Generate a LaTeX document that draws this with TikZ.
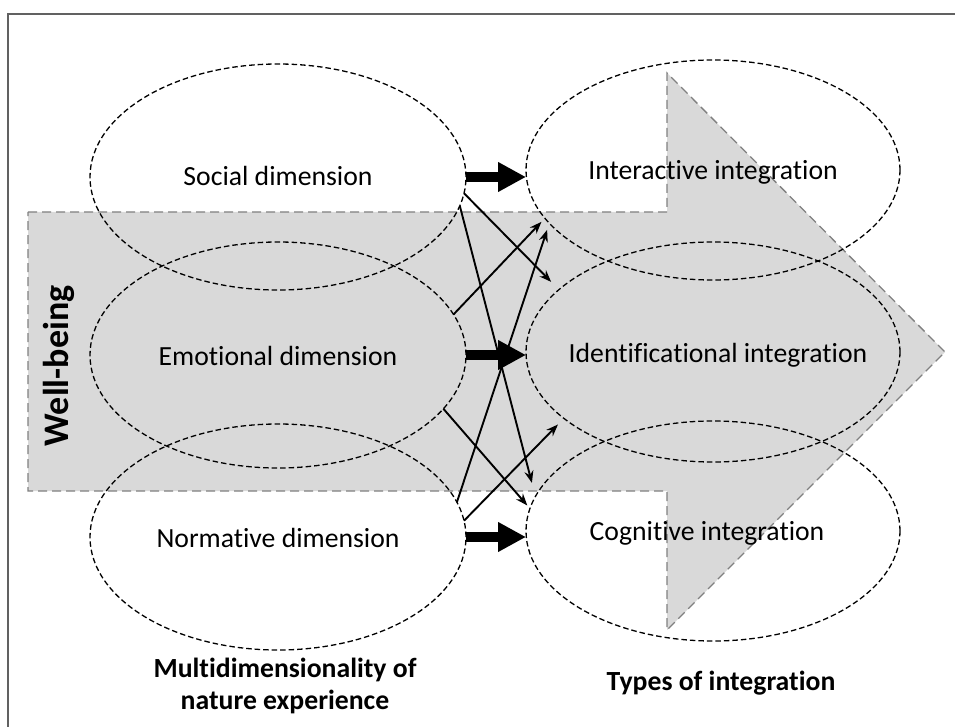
\documentclass[tikz,border=0pt]{standalone}
\usepackage{fontspec}
\setmainfont{Carlito}[Ligatures=NoCommon]
\usetikzlibrary{arrows.meta,shapes.geometric,calc}
\definecolor{arrowfill}{gray}{0.85}
\definecolor{outl}{gray}{0.5}
\definecolor{framecol}{gray}{0.38}
\begin{document}
\begin{tikzpicture}[x=1pt,y=-1pt,
  ellL/.style={ellipse,draw=black,line width=1.3pt,dash pattern=on 5.5pt off 3pt,
    minimum width=376pt,minimum height=226pt,inner sep=0pt,outer sep=0pt},
  ellR/.style={ellL,minimum width=374pt,minimum height=220pt},
  lbl/.style={font=\fontsize{27.7}{33}\selectfont,inner sep=0pt,anchor=base},
  ttl/.style={font=\fontsize{27.7}{32}\selectfont\bfseries,align=center,inner sep=0pt},
  fatarrow/.style={line width=10pt,-{Triangle[length=28pt,width=28pt]}},
  thinarrow/.style={line width=1.9pt,-{Stealth[length=12pt,width=9pt]}}]
\useasboundingbox (0,0) rectangle (955,727);
% frame
\draw[framecol,line width=2.5pt] (8,727) -- (8,14) -- (955,14);
% big arrow
\fill[arrowfill] (28,212) -- (667,212) -- (667,73) -- (945,352) -- (667,630) -- (667,491) -- (28,491) -- cycle;
\draw[outl,line width=1.3pt,dash pattern=on 9pt off 5pt] (28,212) -- (667,212) -- (667,73) -- (945,352) -- (667,630) -- (667,491) -- (28,491) -- cycle;
\node[rotate=90,anchor=base,inner sep=0pt,font=\fontsize{36}{40}\selectfont\bfseries] (wb) at (68,366) {Well-being};
% ellipses
\node[ellL] (soc) at (278,177) {};
\node[ellL] (emo) at (278,355) {};
\node[ellL] (nor) at (278,537) {};
\node[ellR] (int) at (713,170) {};
\node[ellR] (ide) at (713,352) {};
\node[ellR] (cog) at (713,531) {};
% labels
\node[lbl] (socT) at (278,186) {Social dimension};
\node[lbl] (emoT) at (278,365) {Emotional dimension};
\node[lbl] (norT) at (278,547) {Normative dimension};
\node[lbl] (intT) at (713,180) {Interactive integration};
\node[lbl] (ideT) at (718,362) {Identificational integration};
\node[lbl] (cogT) at (707,540) {Cognitive integration};
% thick arrows
\draw[fatarrow] (soc.east) -- (soc.east -| int.west);
\draw[fatarrow] (emo.east) -- (emo.east -| ide.west);
\draw[fatarrow] (nor.east) -- (nor.east -| cog.west);
% thin arrows
\draw[thinarrow,shorten >=11pt] (soc.-5.6) -- (ide.158.5);
\draw[thinarrow,shorten >=14pt] (soc.-9.3) -- (cog.169);
\draw[thinarrow,shorten >=5pt] (emo.13) -- (int.196.2);
\draw[thinarrow,shorten >=4pt] (emo.-18.4) -- (cog.173.4);
\draw[thinarrow,shorten >=7pt] (nor.11.8) -- (int.198.9);
\draw[thinarrow,shorten >=8.5pt] (nor.5.25) -- (ide.204.9);
% titles
\node[ttl] (leftT) at (285,686) {Multidimensionality of\\nature experience};
\node[ttl,anchor=base] (rightT) at (721,690) {Types of integration};
\end{tikzpicture}
\end{document}
